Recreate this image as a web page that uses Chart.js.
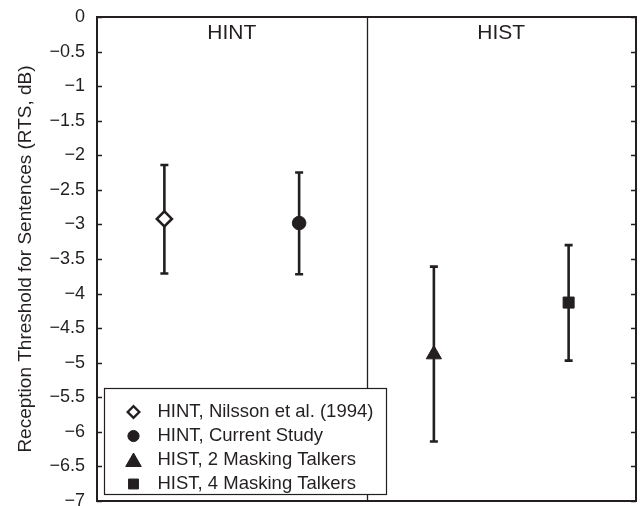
<!DOCTYPE html>
<html>
<head>
<meta charset="utf-8">
<script src="https://cdn.jsdelivr.net/npm/chart.js@4/dist/chart.umd.min.js"></script>
<style>
  html,body{margin:0;padding:0;background:#fff;}
  canvas{display:block;}
</style>
</head>
<body>
<canvas id="rts" width="642" height="506"></canvas>
<script>
// conditions, in legend order
const conditions = ['HINT, Nilsson et al. (1994)', 'HINT, Current Study', 'HIST, 2 Masking Talkers', 'HIST, 4 Masking Talkers'];
const xPos = [0.5, 1.5, 2.5, 3.5];
const meanRTS = [-2.92, -2.98, -4.88, -4.13];
const upperRTS = [-2.14, -2.25, -3.61, -3.30];
const lowerRTS = [-3.71, -3.72, -6.14, -4.97];
const markers = ['rectRot', 'circle', 'triangle', 'rect'];
const panelLabels = ['HINT', 'HIST'];
const panelX = [1, 3];
const dividerX = 2;

const INK = '#231f20';
const FONT = '"Liberation Sans", Arial, Helvetica, sans-serif';

const markerRadius = {rectRot: 7.5, circle: 6.8, triangle: 8.8, rect: 7.8};
const legendRadius = {rectRot: 5.8, circle: 5.6, triangle: 9, rect: 7};

function shape(ctx, style, r, x, y, fill){
  ctx.save();
  ctx.fillStyle = fill; ctx.strokeStyle = INK; ctx.lineWidth = style==='rectRot' ? 2.4 : 1;
  Chart.helpers.drawPoint(ctx, {pointStyle: style, radius: r, rotation: 0, borderWidth: ctx.lineWidth}, x, y);
  ctx.restore();
}

const frame = {
  id: 'frame',
  beforeDatasetsDraw(chart){
    const {ctx, chartArea: a, scales: {x, y}} = chart;
    ctx.save();
    ctx.strokeStyle = INK;
    // inward ticks
    ctx.lineWidth = 1.5;
    y.ticks.forEach(t => {
      const py = Math.round(y.getPixelForValue(t.value)) + 0.5;
      ctx.beginPath();
      ctx.moveTo(a.left, py); ctx.lineTo(a.left + 5, py);
      ctx.moveTo(a.right, py); ctx.lineTo(a.right - 5, py);
      ctx.stroke();
    });
    // divider between panels
    const dx = Math.round(x.getPixelForValue(dividerX)) + 0.5;
    ctx.lineWidth = 1.3;
    ctx.beginPath(); ctx.moveTo(dx, a.top); ctx.lineTo(dx, a.bottom); ctx.stroke();
    // panel labels
    ctx.fillStyle = INK;
    ctx.font = '21px ' + FONT;
    ctx.textAlign = 'center'; ctx.textBaseline = 'middle';
    panelLabels.forEach((lab, i) => ctx.fillText(lab, x.getPixelForValue(panelX[i]), y.getPixelForValue(-0.23)));
    // error bars
    ctx.lineWidth = 2.6;
    xPos.forEach((xv, i) => {
      const px = x.getPixelForValue(xv);
      const top = y.getPixelForValue(upperRTS[i]);
      const bot = y.getPixelForValue(lowerRTS[i]);
      ctx.beginPath();
      ctx.moveTo(px, top); ctx.lineTo(px, bot);
      ctx.moveTo(px - 4, top); ctx.lineTo(px + 4, top);
      ctx.moveTo(px - 4, bot); ctx.lineTo(px + 4, bot);
      ctx.stroke();
    });
    // outer box
    ctx.lineWidth = 2;
    ctx.strokeRect(a.left, a.top, a.right - a.left, a.bottom - a.top);
    ctx.restore();
  },
  afterDraw(chart){
    const {ctx, chartArea: a} = chart;
    ctx.save();
    const bx = a.left + 7.5, by = 388.5, bw = 282, bh = 106;
    ctx.fillStyle = '#fff';
    ctx.fillRect(bx, by, bw, bh);
    ctx.strokeStyle = INK; ctx.lineWidth = 1.2;
    ctx.strokeRect(bx, by, bw, bh);
    ctx.font = '18.5px ' + FONT;
    ctx.textAlign = 'left'; ctx.textBaseline = 'middle';
    conditions.forEach((c, i) => {
      const ly = by + 23.5 + i * 24;
      shape(ctx, markers[i], legendRadius[markers[i]], bx + 29, ly + (markers[i]==='triangle' ? 2 : 0), markers[i]==='rectRot' ? '#fff' : INK);
      ctx.fillStyle = INK;
      ctx.fillText(c, bx + 53, ly);
    });
    ctx.restore();
  }
};

new Chart(document.getElementById('rts'), {
  type: 'scatter',
  data: {
    datasets: conditions.map((c, i) => ({
      label: c,
      data: [{x: xPos[i], y: meanRTS[i]}],
      pointStyle: markers[i],
      pointRadius: markerRadius[markers[i]],
      pointHoverRadius: markerRadius[markers[i]],
      pointBackgroundColor: markers[i] === 'rectRot' ? '#fff' : INK,
      pointBorderColor: INK,
      pointBorderWidth: markers[i] === 'rectRot' ? 2.6 : 1
    }))
  },
  options: {
    responsive: false,
    animation: false,
    layout: {autoPadding: false, padding: {top: 17, right: 6, bottom: 5, left: 0}},
    plugins: {legend: {display: false}, tooltip: {enabled: false}},
    scales: {
      x: {type: 'linear', min: 0, max: 4, display: false},
      y: {
        min: -7, max: 0,
        grid: {display: false, drawTicks: true, tickLength: 12},
        border: {display: false},
        ticks: {
          stepSize: 0.5,
          padding: 0,
          color: INK,
          font: {family: FONT, size: 18, lineHeight: 0.5},
          callback: v => String(v).replace('-', '\u2212')
        },
        title: {
          display: true,
          text: 'Reception Threshold for Sentences (RTS, dB)',
          color: INK,
          font: {family: FONT, size: 19},
          padding: {top: 14, bottom: 0}
        },
        afterFit(scale){ scale.width = 97; }
      }
    }
  },
  plugins: [frame]
});
</script>
</body>
</html>
